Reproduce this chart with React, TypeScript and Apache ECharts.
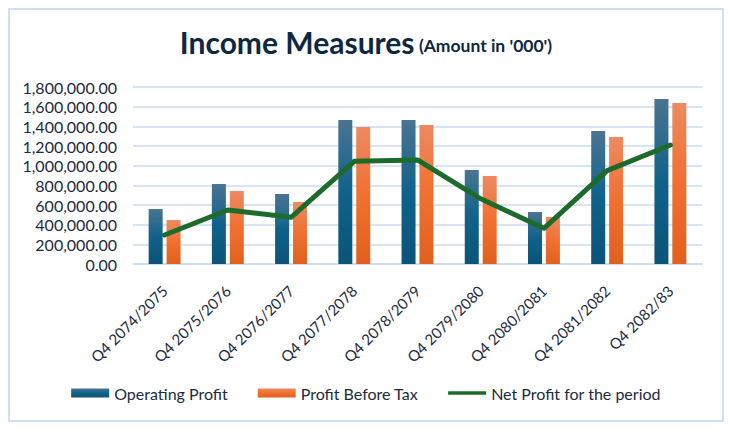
import React, { useEffect, useRef } from "react";
import * as echarts from "echarts";

const categories = [
  "Q4 2074/2075",
  "Q4 2075/2076",
  "Q4 2076/2077",
  "Q4 2077/2078",
  "Q4 2078/2079",
  "Q4 2079/2080",
  "Q4 2080/2081",
  "Q4 2081/2082",
  "Q4 2082/83",
];
const operatingProfit = [559000, 813000, 712000, 1464000, 1464000, 956000, 529000, 1353000, 1678000];
const profitBeforeTax = [447000, 742000, 630000, 1393000, 1413000, 895000, 478000, 1292000, 1637000];
const netProfit = [295000, 549000, 475000, 1044000, 1058000, 663000, 363000, 949000, 1210000];
const yTicks = { min: 0, max: 1800000, interval: 200000 };

const FONT = "Lato, 'Noto Sans', sans-serif";
const TEXT = "#1b2a41";
const LINE_ICON = "path://M0,0 M42,9 M0,2.5 L42,2.5 L42,6.5 L0,6.5 Z";

export default function App() {
  const ref = useRef<HTMLDivElement>(null);
  useEffect(() => {
    if (!ref.current) return;
    const chart = echarts.init(ref.current, undefined, { renderer: "svg" });
    const blue = new echarts.graphic.LinearGradient(0, 0, 0, 1, [
      { offset: 0, color: "#4b7492" },
      { offset: 0.5, color: "#10628a" },
      { offset: 1, color: "#0b5478" },
    ]);
    const orange = new echarts.graphic.LinearGradient(0, 0, 0, 1, [
      { offset: 0, color: "#ec8a62" },
      { offset: 0.5, color: "#f07030" },
      { offset: 1, color: "#e1601d" },
    ]);
    chart.setOption({
      animation: false,
      backgroundColor: "#ffffff",
      textStyle: { fontFamily: FONT },
      title: {
        left: "center",
        top: 12,
        text: "{a|Income Measures} {b|(Amount in '000')}",
        textStyle: {
          rich: {
            a: { fontFamily: FONT, fontWeight: "bold", fontSize: 30, color: "#0e2841" },
            b: { fontFamily: FONT, fontWeight: "bold", fontSize: 17.5, color: "#0e2841", padding: [6, 0, 0, 0] },
          },
        },
      },
      legend: {
        left: "center",
        top: 370,
        itemWidth: 38,
        itemHeight: 9,
        itemGap: 30,
        textStyle: { fontFamily: FONT, fontSize: 16, color: TEXT },
        data: [
          { name: "Operating Profit", icon: "rect" },
          { name: "Profit Before Tax", icon: "rect" },
          { name: "Net Profit for the period", icon: LINE_ICON },
        ],
      },
      grid: { left: 123, right: 20, top: 77, bottom: 156, containLabel: false },
      xAxis: {
        type: "category",
        data: categories,
        axisLine: { lineStyle: { color: "#c9dbf0", width: 1.5 } },
        axisTick: { show: false },
        axisLabel: {
          rotate: 45,
          margin: 24,
          interval: 0,
          fontFamily: FONT,
          fontSize: 15,
          color: TEXT,
        },
      },
      yAxis: {
        type: "value",
        min: yTicks.min,
        max: yTicks.max,
        interval: yTicks.interval,
        axisLine: { show: false },
        axisTick: { show: false },
        splitLine: { lineStyle: { color: "#c9dbf0", width: 1.5 } },
        axisLabel: {
          margin: 16,
          fontFamily: FONT,
          fontSize: 16,
          color: TEXT,
          formatter: (v: number) =>
            v.toLocaleString("en-US", { minimumFractionDigits: 2, maximumFractionDigits: 2 }),
        },
      },
      series: [
        {
          name: "Operating Profit",
          type: "bar",
          data: operatingProfit,
          barWidth: 14,
          barGap: "28%",
          itemStyle: { color: blue },
        },
        {
          name: "Profit Before Tax",
          type: "bar",
          data: profitBeforeTax,
          barWidth: 14,
          itemStyle: { color: orange },
        },
        {
          name: "Net Profit for the period",
          type: "line",
          data: netProfit,
          symbol: "none",
          lineStyle: { color: "#1d6b2a", width: 5, cap: "round", join: "round" },
          itemStyle: { color: "#1d6b2a" },
        },
      ],
    });
    return () => chart.dispose();
  }, []);
  return (
    <div
      ref={ref}
      style={{
        width: 716,
        height: 414,
        boxSizing: "border-box",
        border: "2px solid #cddff3",
      }}
    />
  );
}
